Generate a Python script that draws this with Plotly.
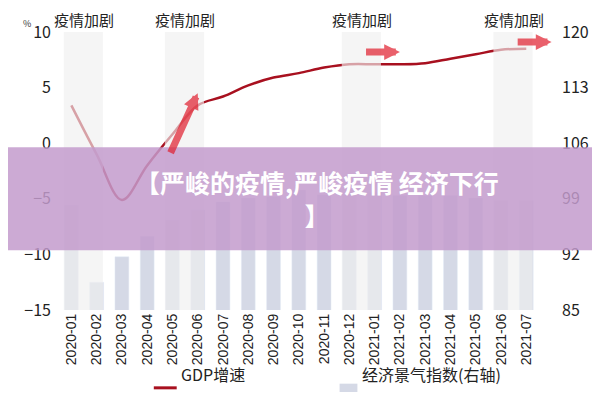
import plotly.graph_objects as go

months = ["2020-01","2020-02","2020-03","2020-04","2020-05","2020-06","2020-07","2020-08","2020-09","2020-10",
          "2020-11","2020-12","2021-01","2021-02","2021-03","2021-04","2021-05","2021-06","2021-07"]
gdp = [3.4, -1.0, -5.1, -2.0, 0.8, 3.4, 4.2, 5.2, 5.9, 6.3, 6.8, 7.1, 7.1, 7.1, 7.2, 7.6, 8.0, 8.4, 8.5]
index = [98.2, 88.5, 91.7, 94.3, 96.3, 97.6, 98.6, 99.1, 99.3, 100.1, 99.5, 99.8, 99.8, 99.4, 99.4, 99.4, 99.1, 98.8, 98.8]
bands = [("2020-01","2020-02"), ("2020-05","2020-06"), ("2020-12","2021-01"), ("2021-06","2021-07")]
band_label = "疫情加剧"
legend_names = ["GDP增速", "经济景气指数(右轴)"]

F = "Noto Sans CJK SC"
fig = go.Figure()
fig.add_bar(x=months, y=index, yaxis="y2", marker_color="#d5d9e6", width=0.55, name=legend_names[1])
fig.add_scatter(x=months, y=gdp, mode="lines", line=dict(color="#a8101f", width=2.5, shape="spline"), name=legend_names[0])

idx = {m: i for i, m in enumerate(months)}
for a, b in bands:
    fig.add_shape(type="rect", xref="x", yref="paper", x0=idx[a]-0.3, x1=idx[b]+0.25, y0=0, y1=1,
                  fillcolor="rgba(240,240,240,0.65)", line_width=0, layer="above")
    fig.add_annotation(x=(idx[a]+idx[b])/2, y=1.0, xref="x", yref="paper", text=band_label, showarrow=False,
                       yanchor="bottom", font=dict(size=15, color="#222", family=F))
arrows = [(3.9, -1.0, 5.0, 4.5), (11.6, 8.2, 13.0, 8.2), (17.6, 9.1, 19.0, 9.1)]
for x0, y0, x1, y1 in arrows:
    fig.add_annotation(x=x1, y=y1, ax=x0, ay=y0, xref="x", yref="y", axref="x", ayref="y", text="",
                       showarrow=True, arrowhead=2, arrowsize=0.45, arrowwidth=7, arrowcolor="rgba(225,30,45,0.7)")

fig.add_shape(type="rect", xref="paper", yref="paper", x0=-0.2, x1=1.2, y0=0.215, y1=0.585,
              fillcolor="rgba(195,155,205,0.85)", line_width=0, layer="above")
fig.add_annotation(x=0.52, y=0.4, xref="paper", yref="paper", showarrow=False,
                   text="<b>【严峻的疫情,严峻疫情 经济下行<br>】</b>", font=dict(size=25, color="white", family=F),
                   align="center")
fig.add_annotation(x=-0.06, y=1.0, xref="paper", yref="paper", text="%", showarrow=False,
                   yanchor="bottom", font=dict(size=9, color="#333"))

ly = -0.28
fig.add_shape(type="line", xref="paper", yref="paper", x0=0.20, x1=0.245, y0=ly, y1=ly,
              line=dict(color="#a8101f", width=3))
fig.add_annotation(x=0.25, y=ly, xref="paper", yref="paper", text=legend_names[0], showarrow=False,
                   xanchor="left", font=dict(size=16, color="#222"))
fig.add_shape(type="rect", xref="paper", yref="paper", x0=0.565, x1=0.6, y0=ly-0.015, y1=ly+0.015,
              fillcolor="#d5d9e6", line_width=0)
fig.add_annotation(x=0.605, y=ly, xref="paper", yref="paper", text=legend_names[1], showarrow=False,
                   xanchor="left", font=dict(size=16, color="#222"))

fig.update_layout(
    width=600, height=400, margin=dict(l=44, r=47, t=24, b=98),
    plot_bgcolor="white", paper_bgcolor="white", font=dict(family=F, color="#222", size=16),
    showlegend=False,
    xaxis=dict(type="category", tickangle=-90, tickfont=dict(size=14, family="Liberation Sans"), showgrid=False, automargin=False),
    yaxis=dict(range=[-15, 10], tickvals=[-15, -10, -5, 0, 5, 10], showgrid=False, zeroline=False, automargin=False),
    yaxis2=dict(range=[85, 120], tickvals=[85, 92, 99, 106, 113, 120], overlaying="y", side="right",
                showgrid=False, automargin=False),
)
fig.write_html("out.html")
